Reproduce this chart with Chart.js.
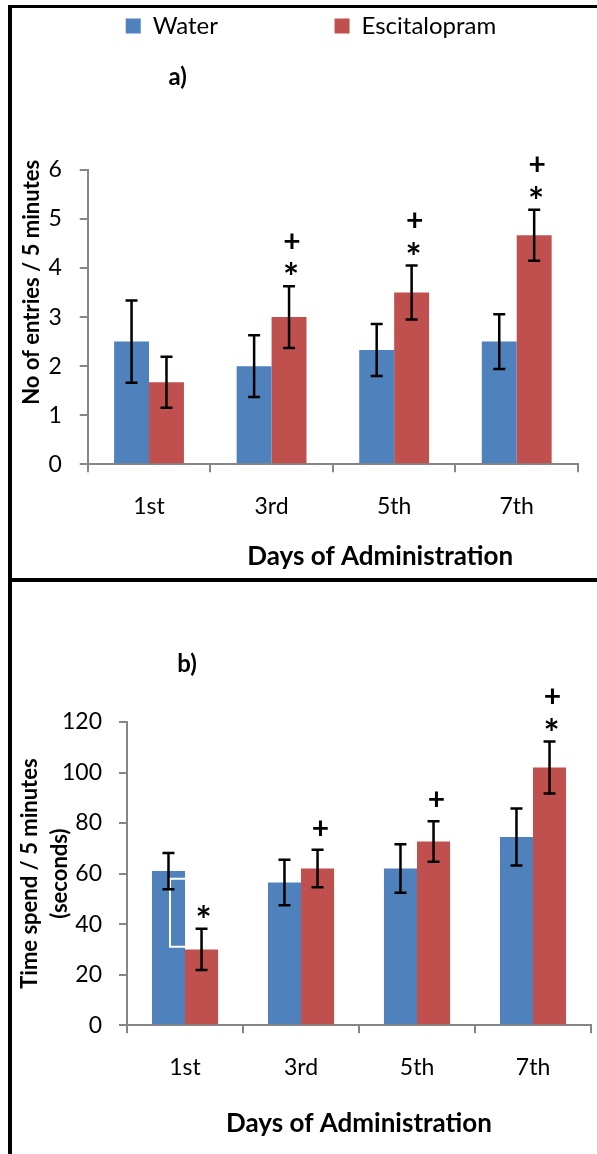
<!DOCTYPE html>
<html lang="en">
  <head>
    <meta charset="UTF-8" />
    <title>Water vs Escitalopram</title>
    <script src="https://cdn.jsdelivr.net/npm/chart.js"></script>
    <style>
      body {
        margin: 0;
        background: #fff;
      }
      #frame {
        position: absolute;
        left: 8px;
        top: 5px;
        width: 585px;
        border-left: 4px solid #000;
        border-top: 3px solid #000;
      }
      #panelA {
        height: 570px;
      }
      #panelB {
        height: 572px;
        border-top: 4px solid #000;
      }
      canvas {
        display: block;
      }
    </style>
  </head>
  <body>
    <div id="frame">
      <div id="panelA"><canvas id="chartA" width="585" height="570"></canvas></div>
      <div id="panelB"><canvas id="chartB" width="585" height="572"></canvas></div>
    </div>

    <script>
      const days = ["1st", "3rd", "5th", "7th"];

      // a) number of entries / 5 minutes
      const entriesWater = [2.5, 2.0, 2.33, 2.5];
      const entriesWaterErr = [0.84, 0.63, 0.53, 0.56];
      const entriesEsc = [1.67, 3.0, 3.5, 4.67];
      const entriesEscErr = [0.52, 0.63, 0.55, 0.52];
      const entriesTicks = [0, 1, 2, 3, 4, 5, 6];
      const entriesStar = [false, true, true, true];
      const entriesPlus = [false, true, true, true];

      // b) time spend / 5 minutes (seconds)
      const timeWater = [61, 56.5, 62, 74.5];
      const timeWaterErr = [7.2, 9, 9.6, 11.3];
      const timeEsc = [30, 62, 72.7, 102];
      const timeEscErr = [8.2, 7.4, 8, 10.3];
      const timeTicks = [0, 20, 40, 60, 80, 100, 120];
      const timeStar = [true, false, false, true];
      const timePlus = [false, true, true, true];
      const timeBracket = [31, 58]; // stray white box edge on the 1st day water bar

      const BLUE = "#4f81bd";
      const RED = "#c0504d";
      const AXIS = "#868686";

      Chart.defaults.font.family = "Lato, sans-serif";
      Chart.defaults.color = "#000";

      // error bars, significance marks and the panel letter
      function extras(errors, stars, pluses, panel, bracket) {
        return {
          id: "extras",
          afterDatasetsDraw(chart) {
            const { ctx, chartArea } = chart;
            const y = chart.scales.y;
            ctx.save();

            if (bracket) {
              const bar = chart.getDatasetMeta(0).data[0];
              const right = bar.x + bar.width / 2;
              const left = bar.x + 1.5;
              const t = y.getPixelForValue(bracket[1]);
              const b = y.getPixelForValue(bracket[0]);
              ctx.strokeStyle = "#fff";
              ctx.lineWidth = 2;
              ctx.beginPath();
              ctx.moveTo(right, t);
              ctx.lineTo(left, t);
              ctx.lineTo(left, b);
              ctx.lineTo(right, b);
              ctx.stroke();
            }

            ctx.strokeStyle = "#000";
            ctx.lineWidth = 2.5;
            errors.forEach((errs, di) => {
              const vals = chart.data.datasets[di].data;
              chart.getDatasetMeta(di).data.forEach((bar, i) => {
                const hi = y.getPixelForValue(vals[i] + errs[i]);
                const lo = y.getPixelForValue(vals[i] - errs[i]);
                ctx.beginPath();
                ctx.moveTo(bar.x, hi);
                ctx.lineTo(bar.x, lo);
                ctx.moveTo(bar.x - 6, hi);
                ctx.lineTo(bar.x + 6, hi);
                ctx.moveTo(bar.x - 6, lo);
                ctx.lineTo(bar.x + 6, lo);
                ctx.stroke();
              });
            });

            const esc = chart.data.datasets[1].data;
            ctx.fillStyle = "#000";
            ctx.textAlign = "center";
            ctx.textBaseline = "middle";
            chart.getDatasetMeta(1).data.forEach((bar, i) => {
              const top = y.getPixelForValue(esc[i] + errors[1][i]);
              if (stars[i]) {
                ctx.font = "bold 38px Lato";
                ctx.fillText("*", bar.x + 2, top - 7);
              }
              if (pluses[i]) {
                ctx.font = "bold 30px Lato";
                ctx.fillText("+", bar.x + 3, top - (stars[i] ? 44 : 21));
              }
            });

            ctx.font = "bold 24px Lato";
            ctx.fillText(panel.text, chartArea.left + panel.dx, chartArea.top + panel.dy);
            ctx.restore();
          },
        };
      }

      // leave room between the legend and the plot
      const legendGap = (height) => ({
        id: "legendGap",
        beforeInit(chart) {
          const fit = chart.legend.fit;
          chart.legend.fit = function () {
            fit.call(this);
            this.height = height;
          };
        },
      });

      function xScale(titleText, titlePad) {
        return {
          grid: { drawOnChartArea: false, tickLength: 8, color: AXIS, lineWidth: 2 },
          border: { color: AXIS, width: 2 },
          ticks: { font: { size: 23 }, padding: 21 },
          title: {
            display: true,
            text: titleText,
            font: { size: 26, weight: "bold" },
            padding: titlePad,
          },
        };
      }

      function yScale(max, ticks, titleText, titleFont, titlePad, tickPad) {
        return {
          min: 0,
          max: max,
          afterBuildTicks: (s) => {
            s.ticks = ticks.map((v) => ({ value: v }));
          },
          grid: { drawOnChartArea: false, tickLength: 8, color: AXIS, lineWidth: 2 },
          border: { color: AXIS, width: 2 },
          ticks: { font: { size: 23 }, padding: tickPad },
          title: { display: true, text: titleText, font: titleFont, padding: titlePad },
        };
      }

      new Chart(document.getElementById("chartA"), {
        type: "bar",
        data: {
          labels: days,
          datasets: [
            { label: "Water", data: entriesWater, backgroundColor: BLUE },
            { label: "Escitalopram", data: entriesEsc, backgroundColor: RED },
          ],
        },
        options: {
          responsive: false,
          animation: false,
          layout: { padding: { top: 0, right: 19, bottom: 0, left: 32 } },
          datasets: { bar: { categoryPercentage: 0.57, barPercentage: 1 } },
          scales: {
            x: xScale(" ".repeat(15) + "Days of Administration", { top: -1, bottom: 6 }),
            y: yScale(
              6,
              entriesTicks,
              " ".repeat(13) + "No of entries / 5 minutes",
              { size: 22, weight: "bold" },
              { top: -25, bottom: -15 },
              18
            ),
          },
          plugins: {
            legend: {
              labels: {
                boxWidth: 15,
                boxHeight: 15,
                padding: 6,
                font: { size: 24 },
                generateLabels(chart) {
                  const items = Chart.defaults.plugins.legend.labels.generateLabels(chart);
                  items[0].text += " ".repeat(18);
                  return items;
                },
              },
            },
            tooltip: { enabled: false },
          },
        },
        plugins: [
          legendGap(162),
          extras([entriesWaterErr, entriesEscErr], entriesStar, entriesPlus, { text: "a)", dx: 90, dy: -93 }),
        ],
      });

      new Chart(document.getElementById("chartB"), {
        type: "bar",
        data: {
          labels: days,
          datasets: [
            { label: "Water", data: timeWater, backgroundColor: BLUE },
            { label: "Escitalopram", data: timeEsc, backgroundColor: RED },
          ],
        },
        options: {
          responsive: false,
          animation: false,
          layout: { padding: { top: 140, right: 6, bottom: 0, left: 0 } },
          datasets: { bar: { categoryPercentage: 0.57, barPercentage: 1 } },
          scales: {
            x: xScale("Days of Administration", { top: 5, bottom: 15 }),
            y: yScale(
              120,
              timeTicks,
              ["Time spend / 5 minutes", "(seconds)"],
              { size: 22, weight: "bold", lineHeight: 30 / 22 },
              { top: 3, bottom: -30 },
              17
            ),
          },
          plugins: {
            legend: { display: false },
            tooltip: { enabled: false },
          },
        },
        plugins: [
          extras([timeWaterErr, timeEscErr], timeStar, timePlus, { text: "b)", dx: 60, dy: -58 }, timeBracket),
        ],
      });
    </script>
  </body>
</html>
